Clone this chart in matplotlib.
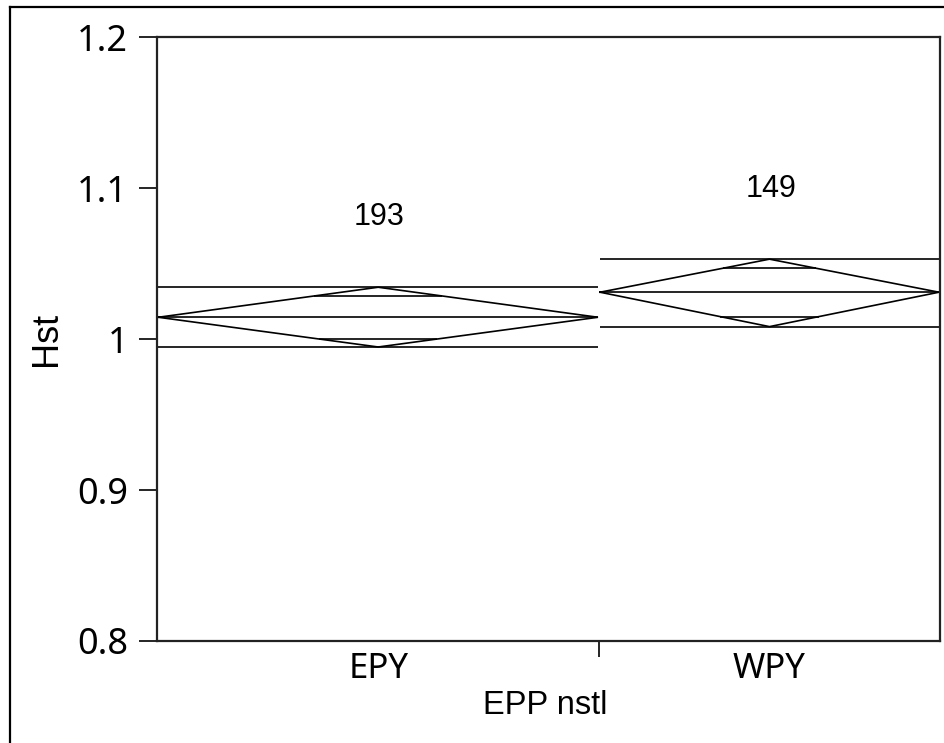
import numpy as np
import matplotlib
matplotlib.use('Agg')
import matplotlib.pyplot as plt
from matplotlib.lines import Line2D

# values
groups = ['EPY', 'WPY']
counts = [193, 149]
means = [1.0145, 1.0311]
ci_upper = [1.0344, 1.0530]
ci_lower = [0.9948, 1.0083]
overlap_upper = [1.0286, 1.0470]
overlap_lower = [1.0001, 1.0149]
y_ticks = [0.8, 0.9, 1.0, 1.1, 1.2]
y_tick_labels = ['0.8', '0.9', '1', '1.1', '1.2']

W, H = 945, 743
fig = plt.figure(figsize=(W / 100, H / 100), dpi=100)
ax = fig.add_axes([157.3 / W, 1 - 641 / H, (940 - 157.3) / W, (641 - 37.3) / H])

edges = np.concatenate([[0], np.cumsum(counts)])
gap = 0.45
lw = 1.2

for i, g in enumerate(groups):
    x0, x1 = edges[i] + gap, edges[i + 1] - gap
    xc = (edges[i] + edges[i + 1]) / 2
    m = means[i]
    hw = (x1 - x0) / 2
    # CI lines across group and mean line
    for yv in (ci_upper[i], ci_lower[i], m):
        ax.plot([x0, x1], [yv, yv], color='black', lw=lw, solid_capstyle='butt')
    # diamond
    ax.plot([x0, xc, x1, xc, x0], [m, ci_upper[i], m, ci_lower[i], m],
            color='black', lw=lw, solid_joinstyle='miter')
    # overlap marks
    for yv, ref in ((overlap_upper[i], ci_upper[i]), (overlap_lower[i], ci_lower[i])):
        frac = 1 - abs(yv - m) / abs(ref - m)
        ax.plot([xc - hw * frac, xc + hw * frac], [yv, yv], color='black', lw=lw,
                solid_capstyle='butt')
    ax.text(xc + 0.5, ci_upper[i] + 0.0465, str(counts[i]), ha='center', va='center',
            fontsize=22, family='Liberation Sans')

ax.set_xlim(0, edges[-1])
ax.set_ylim(0.8, 1.2)

ax.set_yticks(y_ticks)
ax.set_yticklabels(y_tick_labels, fontsize=26, family='Noto Sans')
ax.tick_params(axis='y', length=13, width=1.2, pad=8, direction='out')

# divider ticks between groups, category labels at centres
centers = (edges[:-1] + edges[1:]) / 2
ax.set_xticks(edges[1:-1])
ax.set_xticklabels([''] * (len(edges) - 2))
ax.set_xticks(centers, minor=True)
ax.set_xticklabels(groups, minor=True, fontsize=25, family='Noto Sans')
ax.tick_params(axis='x', which='major', length=11.5, width=1.2, direction='out')
ax.tick_params(axis='x', which='minor', length=0, pad=8)

for s in ax.spines.values():
    s.set_linewidth(1.6)
    s.set_color('#222222')

fig.text(545.5 / W, 1 - 706 / H, 'EPP nstl', ha='center', va='center',
         fontsize=23.5, family='Liberation Sans')
fig.text(47 / W, 1 - 339 / H, 'Hst', ha='center', va='center', rotation=90,
         fontsize=26, family='Liberation Sans')

# outer frame (left and top edges)
fig.add_artist(Line2D([10 / W, 10 / W], [0, 1 - 7 / H], color='black', lw=1.6,
                      transform=fig.transFigure))
fig.add_artist(Line2D([10 / W, 1], [1 - 7 / H, 1 - 7 / H], color='black', lw=1.6,
                      transform=fig.transFigure))

fig.savefig('out.png', dpi=100, facecolor='white')
